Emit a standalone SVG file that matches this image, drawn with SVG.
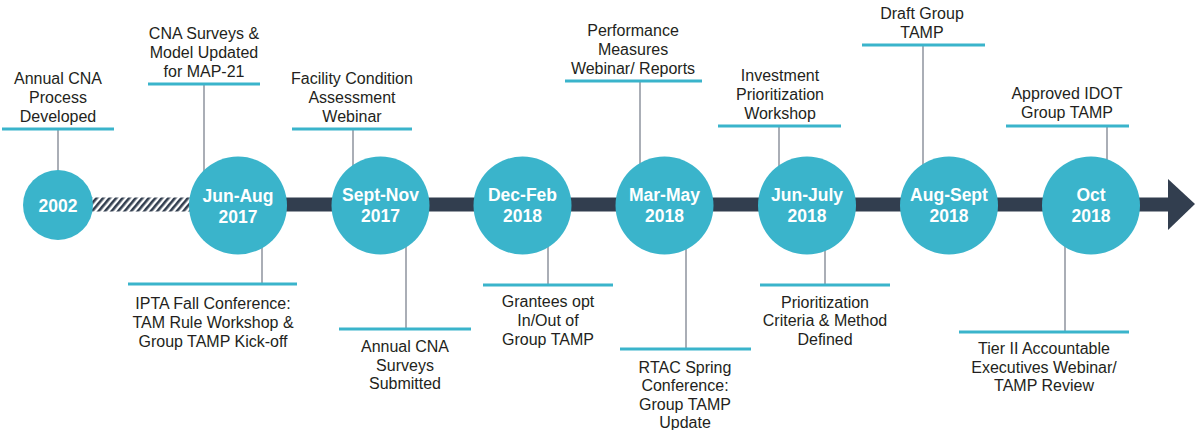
<svg xmlns="http://www.w3.org/2000/svg" width="1197" height="430" viewBox="0 0 1197 430">
<style>
.lbl{font-family:"Liberation Sans",Arial,sans-serif;font-size:16px;fill:#231f20;text-anchor:middle}
.dt{font-family:"Liberation Sans",Arial,sans-serif;font-size:17.5px;font-weight:bold;fill:#ffffff;text-anchor:middle}
.ul{stroke:#3ab4cb;stroke-width:3}
.cn{stroke:#959aa4;stroke-width:1.6}
.dot{fill:#3ab4cb}
</style>
<defs>
<pattern id="hatch" patternUnits="userSpaceOnUse" width="5" height="10" patternTransform="rotate(40)">
<rect x="0" y="0" width="2.6" height="10" fill="#323e4f"/>
</pattern>
</defs>
<rect width="1197" height="430" fill="#ffffff"/>
<g id="connectors">
<rect x="92" y="197.5" width="100" height="14" fill="url(#hatch)"/>
<rect x="190" y="197.5" width="980" height="14" fill="#323e4f"/>
<polygon points="1168,179 1195,204 1168,230" fill="#323e4f"/>
<line class="cn" x1="58" y1="130" x2="58" y2="175"/>
<line class="cn" x1="204" y1="85" x2="204" y2="185"/>
<line class="cn" x1="353" y1="130" x2="353" y2="180"/>
<line class="cn" x1="640" y1="82" x2="640" y2="180"/>
<line class="cn" x1="779" y1="127" x2="779" y2="180"/>
<line class="cn" x1="923" y1="46" x2="923" y2="180"/>
<line class="cn" x1="1107" y1="127" x2="1107" y2="180"/>
<line class="cn" x1="262" y1="230" x2="262" y2="283"/>
<line class="cn" x1="406" y1="230" x2="406" y2="328"/>
<line class="cn" x1="548" y1="230" x2="548" y2="284"/>
<line class="cn" x1="686" y1="230" x2="686" y2="348"/>
<line class="cn" x1="825" y1="230" x2="825" y2="284"/>
<line class="cn" x1="1065" y1="230" x2="1065" y2="331"/>
</g>
<g id="n2002"><circle class="dot" cx="58" cy="205" r="35"/><text class="dt" x="58" y="212">2002</text></g>
<g id="n2017a"><circle class="dot" cx="238" cy="205.5" r="49"/><text class="dt" x="238" y="202">Jun-Aug</text><text class="dt" x="238" y="223">2017</text></g>
<g id="n2017b"><circle class="dot" cx="380.5" cy="205.5" r="49"/><text class="dt" x="380.5" y="201">Sept-Nov</text><text class="dt" x="380.5" y="222">2017</text></g>
<g id="n2018a"><circle class="dot" cx="522.5" cy="205.5" r="49"/><text class="dt" x="522.5" y="201">Dec-Feb</text><text class="dt" x="522.5" y="222">2018</text></g>
<g id="n2018b"><circle class="dot" cx="664.5" cy="205.5" r="49"/><text class="dt" x="664.5" y="201">Mar-May</text><text class="dt" x="664.5" y="222">2018</text></g>
<g id="n2018c"><circle class="dot" cx="807" cy="205.5" r="49"/><text class="dt" x="807" y="201">Jun-July</text><text class="dt" x="807" y="222">2018</text></g>
<g id="n2018d"><circle class="dot" cx="949" cy="205.5" r="49"/><text class="dt" x="949" y="201">Aug-Sept</text><text class="dt" x="949" y="222">2018</text></g>
<g id="n2018e"><circle class="dot" cx="1091" cy="205.5" r="49"/><text class="dt" x="1091" y="201">Oct</text><text class="dt" x="1091" y="222">2018</text></g>
<g id="t1"><line class="ul" x1="2" y1="129" x2="114" y2="129"/><text class="lbl" x="58" y="84">Annual CNA</text><text class="lbl" x="58" y="103">Process</text><text class="lbl" x="58" y="122">Developed</text></g>
<g id="t2"><line class="ul" x1="148" y1="84" x2="260" y2="84"/><text class="lbl" x="204" y="39">CNA Surveys &amp;</text><text class="lbl" x="204" y="58">Model Updated</text><text class="lbl" x="204" y="77">for MAP-21</text></g>
<g id="t3"><line class="ul" x1="292" y1="129" x2="412" y2="129"/><text class="lbl" x="352" y="84">Facility Condition</text><text class="lbl" x="352" y="103">Assessment</text><text class="lbl" x="352" y="122">Webinar</text></g>
<g id="t4"><line class="ul" x1="565" y1="81" x2="702" y2="81"/><text class="lbl" x="633" y="36">Performance</text><text class="lbl" x="633" y="55">Measures</text><text class="lbl" x="633" y="74">Webinar/ Reports</text></g>
<g id="t5"><line class="ul" x1="718" y1="126" x2="841" y2="126"/><text class="lbl" x="780" y="81">Investment</text><text class="lbl" x="780" y="100">Prioritization</text><text class="lbl" x="780" y="119">Workshop</text></g>
<g id="t6"><line class="ul" x1="862" y1="45" x2="985" y2="45"/><text class="lbl" x="922" y="19">Draft Group</text><text class="lbl" x="922" y="38">TAMP</text></g>
<g id="t7"><line class="ul" x1="1006" y1="126" x2="1129" y2="126"/><text class="lbl" x="1067" y="99">Approved IDOT</text><text class="lbl" x="1067" y="118">Group TAMP</text></g>
<g id="b1"><line class="ul" x1="128" y1="284" x2="297" y2="284"/><text class="lbl" x="213" y="309">IPTA Fall Conference:</text><text class="lbl" x="213" y="328">TAM Rule Workshop &amp;</text><text class="lbl" x="213" y="347">Group TAMP Kick-off</text></g>
<g id="b2"><line class="ul" x1="339" y1="329" x2="471" y2="329"/><text class="lbl" x="405" y="352">Annual CNA</text><text class="lbl" x="405" y="371">Surveys</text><text class="lbl" x="405" y="389">Submitted</text></g>
<g id="b3"><line class="ul" x1="483" y1="285" x2="613" y2="285"/><text class="lbl" x="548" y="307">Grantees opt</text><text class="lbl" x="548" y="326">In/Out of</text><text class="lbl" x="548" y="345">Group TAMP</text></g>
<g id="b4"><line class="ul" x1="620" y1="349" x2="751" y2="349"/><text class="lbl" x="685" y="373">RTAC Spring</text><text class="lbl" x="685" y="391">Conference:</text><text class="lbl" x="685" y="410">Group TAMP</text><text class="lbl" x="685" y="428">Update</text></g>
<g id="b5"><line class="ul" x1="760" y1="285" x2="890" y2="285"/><text class="lbl" x="825" y="308">Prioritization</text><text class="lbl" x="825" y="326">Criteria &amp; Method</text><text class="lbl" x="825" y="345">Defined</text></g>
<g id="b6"><line class="ul" x1="959" y1="332" x2="1129" y2="332"/><text class="lbl" x="1044" y="354">Tier II Accountable</text><text class="lbl" x="1044" y="373">Executives Webinar/</text><text class="lbl" x="1044" y="391">TAMP Review</text></g>
</svg>
